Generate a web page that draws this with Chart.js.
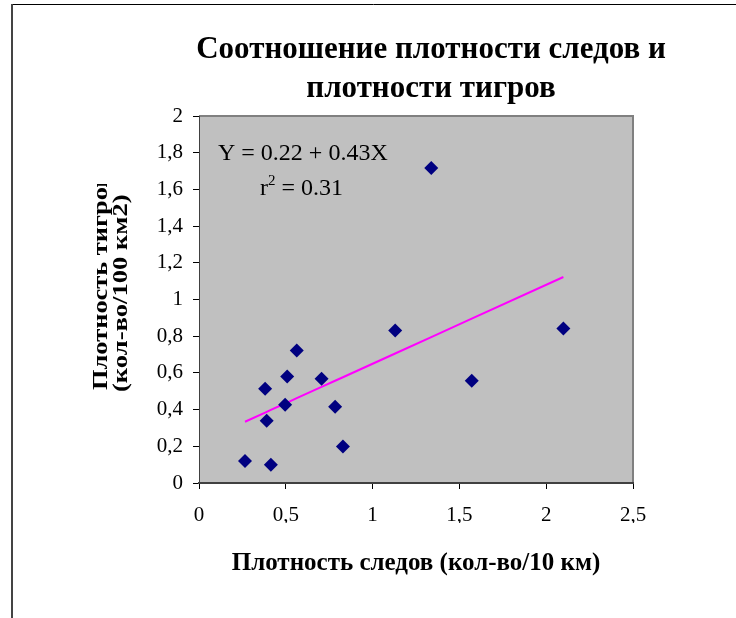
<!DOCTYPE html>
<html>
<head>
<meta charset="utf-8">
<script src="https://cdn.jsdelivr.net/npm/chart.js@4/dist/chart.umd.min.js"></script>
<style>
  html, body { margin: 0; padding: 0; background: #fff; }
  #c { display: block; }
</style>
</head>
<body>
<canvas id="c" width="736" height="618"></canvas>
<script>
// Track density (per 10 km) and tiger density (per 100 km2) for each survey site
const trackDensity = [0.265, 0.414, 0.39, 0.381, 0.496, 0.508, 0.563, 0.706, 0.784, 0.829, 1.13, 1.338, 1.571, 2.099];
const tigerDensity = [0.12, 0.10, 0.339, 0.514, 0.427, 0.58, 0.722, 0.568, 0.415, 0.199, 0.831, 1.717, 0.557, 0.842];

// Regression reported on the chart: Y = a + bX, r2
const fitIntercept = 0.22;
const fitSlope = 0.43;
const fitR2 = 0.31;

const xTicks = [0, 0.5, 1, 1.5, 2, 2.5];
const yTicks = [0, 0.2, 0.4, 0.6, 0.8, 1, 1.2, 1.4, 1.6, 1.8, 2];

const titleLines = ['Соотношение плотности следов и', 'плотности тигров'];
const xTitle = 'Плотность следов (кол-во/10 км)';
const yTitleLines = ['Плотность тигров', '(кол-во/100 км2)'];

const SERIF = '"Liberation Serif", "Times New Roman", serif';

const points = trackDensity.map((x, i) => ({ x: x, y: tigerDensity[i] }));
const sortedX = trackDensity.slice().sort((a, b) => a - b);
const fitLine = sortedX.map(x => ({ x: x, y: fitIntercept + fitSlope * x }));

const fmt = v => String(Math.round(v * 10) / 10).replace('.', ',');

const decor = {
  id: 'decor',
  beforeDraw(chart) {
    const ctx = chart.ctx;
    const a = chart.chartArea;
    ctx.save();
    ctx.fillStyle = '#fff';
    ctx.fillRect(0, 0, chart.width, chart.height);
    // outer frame
    ctx.strokeStyle = '#000';
    ctx.lineWidth = 1;
    ctx.beginPath();
    ctx.moveTo(11, 4.5);
    ctx.lineTo(736, 4.5);
    ctx.stroke();
    ctx.strokeStyle = '#444';
    ctx.lineWidth = 2;
    ctx.beginPath();
    ctx.moveTo(12, 4);
    ctx.lineTo(12, 618);
    ctx.stroke();
    // plot area
    ctx.fillStyle = '#C0C0C0';
    ctx.fillRect(a.left, a.top, a.right - a.left, a.bottom - a.top);
    ctx.strokeStyle = '#808080';
    ctx.lineWidth = 2;
    ctx.beginPath();
    ctx.moveTo(a.left, a.top);
    ctx.lineTo(a.right, a.top);
    ctx.lineTo(a.right, a.bottom);
    ctx.stroke();
    ctx.restore();
  },
  afterDraw(chart) {
    const ctx = chart.ctx;
    ctx.save();
    ctx.fillStyle = '#000';
    // title
    ctx.textAlign = 'center';
    ctx.textBaseline = 'alphabetic';
    ctx.font = 'bold 31px ' + SERIF;
    ctx.fillText(titleLines[0], 431, 58);
    ctx.fillText(titleLines[1], 431, 97);
    // x axis title
    ctx.font = 'bold 25px ' + SERIF;
    ctx.fillText(xTitle, 416, 570);
    // y axis title: narrow, elongated lettering; first line clipped at its box edge
    ctx.font = 'bold 20px ' + SERIF;
    ctx.textAlign = 'left';
    ctx.save();
    ctx.beginPath();
    ctx.rect(0, 184, 200, 434);
    ctx.clip();
    ctx.translate(107, 390);
    ctx.rotate(-Math.PI / 2);
    ctx.scale(1.32, 1);
    ctx.fillText(yTitleLines[0], 0, 0);
    ctx.restore();
    ctx.save();
    ctx.translate(127, 392);
    ctx.rotate(-Math.PI / 2);
    ctx.scale(1.33, 1);
    ctx.fillText(yTitleLines[1], 0, 0);
    ctx.restore();
    // regression label
    ctx.font = '24px ' + SERIF;
    ctx.textAlign = 'left';
    const eq = 'Y = ' + fitIntercept.toFixed(2) + ' + ' + fitSlope.toFixed(2) + 'X';
    ctx.fillText(eq, 218, 160);
    ctx.fillText('r', 260, 195);
    const rw = ctx.measureText('r').width;
    ctx.font = '15px ' + SERIF;
    ctx.fillText('2', 260 + rw, 185);
    const sw = ctx.measureText('2').width;
    ctx.font = '24px ' + SERIF;
    ctx.fillText(' = ' + fitR2.toFixed(2), 260 + rw + sw, 195);
    ctx.restore();
  }
};

new Chart(document.getElementById('c'), {
  type: 'scatter',
  data: {
    datasets: [
      {
        label: 'sites',
        data: points,
        pointStyle: 'rectRot',
        pointRadius: 7,
        pointHoverRadius: 7,
        backgroundColor: '#000080',
        borderColor: '#000080',
        borderWidth: 0
      },
      {
        label: 'fit',
        type: 'line',
        data: fitLine,
        showLine: true,
        borderColor: '#FF00FF',
        borderWidth: 2,
        pointRadius: 0,
        fill: false,
        tension: 0
      }
    ]
  },
  options: {
    responsive: false,
    animation: false,
    devicePixelRatio: 1,
    layout: { padding: { left: 0, top: 116, right: 103, bottom: 95 } },
    plugins: {
      legend: { display: false },
      title: { display: false },
      tooltip: { enabled: false }
    },
    scales: {
      x: {
        type: 'linear',
        min: 0,
        max: 2.5,
        afterBuildTicks: s => { s.ticks = xTicks.map(v => ({ value: v })); },
        afterFit: s => { s.height = 40; },
        ticks: {
          callback: v => fmt(v),
          font: { family: SERIF, size: 21 },
          color: '#000',
          padding: 14,
          maxRotation: 0
        },
        grid: { drawOnChartArea: false, drawTicks: true, tickLength: 6, color: '#000', lineWidth: 1 },
        border: { display: true, color: '#404040', width: 2 }
      },
      y: {
        type: 'linear',
        min: 0,
        max: 2,
        afterBuildTicks: s => { s.ticks = yTicks.map(v => ({ value: v })); },
        afterFit: s => { s.width = 199; },
        ticks: {
          callback: v => fmt(v),
          font: { family: SERIF, size: 21 },
          color: '#000',
          padding: 10
        },
        grid: { drawOnChartArea: false, drawTicks: true, tickLength: 6, color: '#000', lineWidth: 1 },
        border: { display: true, color: '#404040', width: 1 }
      }
    }
  },
  plugins: [decor]
});
</script>
</body>
</html>
